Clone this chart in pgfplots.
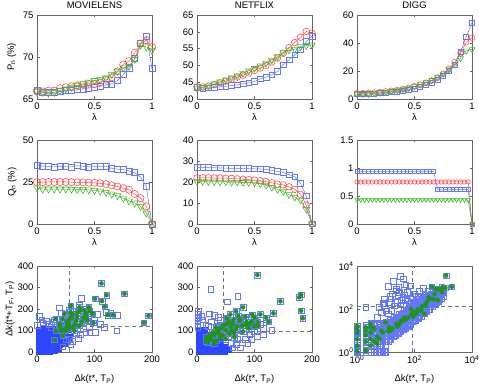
\documentclass[border=0pt]{standalone}
\usepackage{fontspec}
\setmainfont{Liberation Sans}
\usepackage{pgfplots}
\usepackage{pgfplotstable}
\pgfplotsset{compat=1.18}
\definecolor{mBlue}{RGB}{100,120,255}
\definecolor{cBlue}{RGB}{45,70,255}
\definecolor{mRed}{RGB}{255,80,80}
\definecolor{mGreen}{RGB}{70,185,50}
\definecolor{sGreen}{RGB}{30,150,20}
\newcommand\fs{\fontsize{9.5}{11}\selectfont}

\pgfplotsset{
  every axis title shift=0pt,
  base/.style={scale only axis,width=115pt,height=84pt,
    axis line style={draw=black!60,line width=0.5pt},
    tick style={draw=black!60,line width=0.4pt},major tick length=2.5pt,
    tick align=inside,tick pos=both,
    ticklabel style={font=\fs},label style={font=\fs},
    title style={font=\fs,at={(0.5,1)},anchor=south,yshift=3pt},
    /pgf/number format/assume math mode=true},
  lam/.style={base,xmin=0,xmax=1,xtick={0,0.5,1},xlabel={λ},
    xlabel style={at={(axis description cs:0.5,-0.215)},anchor=center}},
  ylab/.style={ylabel style={at={(axis description cs:#1,0.5)},anchor=center}},
  bl/.style={color=mBlue,line width=0.5pt,mark=square,mark size=#1,mark options={line width=0.6pt}},
  rd/.style={color=mRed,line width=0.5pt,mark=o,mark size=#1,mark options={line width=0.6pt}},
  gr/.style={color=mGreen,line width=0.5pt,mark=triangle,mark size=#1,mark options={rotate=180,line width=0.6pt}},
  sc/.style={base,height=86pt,xmin=0,xmax=200,ymin=0,ymax=400,xtick={0,100,200},ytick={0,100,...,400},
    xlabel={Δk(t*, T\textsubscript{P})},
    xlabel style={at={(axis description cs:0.5,-0.32)},anchor=center}},
  so/.style={only marks,mark=square,mark size=2.8pt,color=mBlue,mark options={line width=0.55pt}},
  sf/.style={only marks,mark=square*,mark size=2.8pt,color=cBlue,mark options={fill=cBlue}},
  sg/.style={only marks,mark=*,mark size=2.1pt,color=sGreen,mark options={fill=sGreen}},
  dl/.style={black!55,line width=0.6pt,dash pattern=on 4pt off 3pt}
}

% P_n tables: lambda, blue, red, green
\pgfplotstableread{
l b r g
0 66.0 65.9 65.9
0.05 65.8 65.9 65.8
0.1 65.8 66.0 65.7
0.15 65.8 66.0 65.8
0.2 65.9 66.3 66.0
0.25 66.0 66.4 66.2
0.3 66.0 66.5 66.4
0.35 66.1 66.6 66.6
0.4 66.2 66.7 66.8
0.45 66.3 66.8 67.0
0.5 66.4 66.8 67.2
0.55 66.5 67.0 67.3
0.6 66.7 67.3 67.5
0.65 66.8 67.6 67.9
0.7 67.2 68.3 68.3
0.75 67.9 69.1 68.7
0.8 68.7 69.5 68.9
0.85 69.8 70.5 69.7
0.9 71.6 71.6 71.4
0.95 72.5 72.0 71.2
1 68.6 71.2 70.8
}\mlP
\pgfplotstableread{
l b r g
0 43.4 43.6 43.2
0.05 43.2 43.6 43.4
0.1 43.3 43.9 43.9
0.15 43.4 44.3 44.5
0.2 43.6 44.8 45.1
0.25 43.8 45.3 45.7
0.3 44.0 45.9 46.3
0.35 44.2 46.5 46.9
0.4 44.5 47.1 47.6
0.45 44.8 47.8 48.4
0.5 45.2 48.5 49.1
0.55 46.0 49.2 49.9
0.6 46.5 50.0 50.7
0.65 47.2 51.0 51.6
0.7 48.2 52.2 52.6
0.75 50.2 53.6 53.8
0.8 51.7 55.3 54.6
0.85 53.1 56.8 54.8
0.9 54.6 58.4 55.6
0.95 57.1 60.1 55.9
1 58.6 59.6 56.1
}\ntP
\pgfplotstableread{
l b r g
0 3.6 4.0 3.5
0.05 3.6 4.1 3.4
0.1 3.7 4.3 3.6
0.15 3.9 4.6 4.0
0.2 4.2 5.0 4.4
0.25 4.5 5.4 4.9
0.3 4.9 5.9 5.4
0.35 5.4 6.5 6.1
0.4 6.0 7.2 6.9
0.45 6.7 8.0 7.8
0.5 7.6 9.0 9.0
0.55 8.7 10.2 10.3
0.6 10.0 11.6 11.8
0.65 11.6 13.2 13.4
0.7 13.7 15.2 15.4
0.75 16.6 18.0 18.0
0.8 20.1 21.6 20.9
0.85 24.4 26.5 24.4
0.9 33.9 32.7 29.1
0.95 44.5 40.5 34.4
1 54.7 43.8 35.5
}\dgP
% Q_n tables
\pgfplotstableread{
l b r g
0 34.8 24.9 21.5
0.05 34.4 24.9 20.8
0.1 34.3 25.0 20.8
0.15 34.0 25.0 20.8
0.2 34.3 25.0 20.8
0.25 34.1 25.0 20.8
0.3 34.0 24.9 20.7
0.35 34.7 24.8 20.6
0.4 34.4 24.8 20.5
0.45 34.0 24.6 20.3
0.5 34.2 24.5 20.0
0.55 34.3 24.2 19.6
0.6 34.2 23.8 18.9
0.65 33.2 23.0 17.8
0.7 32.6 22.3 16.8
0.75 32.5 21.3 15.4
0.8 31.6 20.4 13.8
0.85 30.5 17.8 12.5
0.9 28.0 15.4 10.5
0.95 22.5 10.5 6.5
1 0 0 0
}\mlQ
\pgfplotstableread{
l b r g
0 26.9 22.0 20.2
0.05 26.9 22.0 20.2
0.1 26.9 22.0 20.1
0.15 26.8 21.9 20.1
0.2 26.7 21.9 20.0
0.25 26.6 21.8 20.0
0.3 26.5 21.7 19.9
0.35 26.5 21.5 19.9
0.4 26.4 21.3 19.8
0.45 26.4 21.1 19.7
0.5 26.3 20.9 19.6
0.55 26.2 20.6 19.1
0.6 26.0 20.2 18.5
0.65 25.6 19.6 17.5
0.7 25.0 19.0 16.5
0.75 24.6 18.6 15.4
0.8 23.5 17.7 14.0
0.85 22.5 16.5 12.8
0.9 19.4 14.2 11.3
0.95 13.4 9.0 7.0
1 0 0 0
}\ntQ
\pgfplotstableread{
l b r g
0 0.94 0.75 0.43
0.0333 0.94 0.75 0.43
0.0667 0.94 0.75 0.43
0.1 0.94 0.75 0.43
0.1333 0.94 0.75 0.43
0.1667 0.94 0.75 0.43
0.2 0.94 0.75 0.43
0.2333 0.94 0.75 0.43
0.2667 0.94 0.75 0.43
0.3 0.94 0.75 0.43
0.3333 0.94 0.75 0.43
0.3667 0.94 0.75 0.43
0.4 0.94 0.75 0.43
0.4333 0.94 0.75 0.43
0.4667 0.94 0.75 0.43
0.5 0.94 0.75 0.43
0.5333 0.94 0.75 0.43
0.5667 0.94 0.75 0.43
0.6 0.94 0.75 0.43
0.6333 0.94 0.75 0.43
0.6667 0.94 0.75 0.43
0.7 0.62 0.75 0.43
0.7333 0.62 0.75 0.43
0.7667 0.62 0.75 0.43
0.8 0.62 0.75 0.43
0.8333 0.62 0.75 0.43
0.8667 0.62 0.75 0.43
0.9 0.62 0.75 0.43
0.9333 0.62 0.75 0.43
0.9667 0.62 0.75 0.43
1 0 0 0
}\dgQ

% scatter: MovieLens
\pgfplotstableread{
x y
3 5
3 30
3 55
3 80
4 100
12 5
12 30
12 55
12 80
13 105
21 5
21 30
21 55
21 80
22 105
30 8
30 30
30 55
30 80
32 105
38 15
39 35
39 55
40 80
42 100
47 40
48 60
50 85
53 105
56 70
44 120
}\mlC
\pgfplotstableread{
x y
77 250
39 205
4 167
21 130
10 135
16 146
28 140
0 125
8 150
35 125
45 140
60 150
70 130
80 110
65 100
68 84
85 91
92 91
101 91
91 115
117 115
139 99
59 37
50 56
56 60
45 25
62 50
72 65
75 80
105 175
85 200
64 190
50 165
42 180
100 148
120 185
128 180
140 170
90 180
30 150
55 195
73 220
110 130
24 115
}\mlB
\pgfplotstableread{
x y
112 319
152 271
101 248
113 237
121 265
118 211
123 172
132 171
97 178
98 136
194 169
186 136
59 215
74 208
90 208
85 177
80 161
68 146
62 177
48 177
45 153
56 153
53 122
33 153
33 99
42 99
50 99
62 115
74 122
30 56
45 76
56 130
71 184
82 192
88 146
65 99
39 130
40 115
52 140
60 160
70 165
78 140
66 128
47 105
58 185
75 195
85 160
92 190
55 110
}\mlG
% scatter: Netflix
\pgfplotstableread{
x y
3 5
3 30
3 55
3 80
3 100
12 5
12 30
12 55
12 80
12 100
21 5
21 30
21 55
21 80
30 5
30 30
30 55
30 75
39 5
39 30
39 50
48 5
48 25
55 10
}\ntC
\pgfplotstableread{
x y
1 115
1 130
1 145
2 160
1 175
2 190
24 293
71 259
53 234
21 177
37 161
68 37
79 43
71 60
84 60
92 80
100 95
97 120
90 150
102 145
110 130
105 100
60 40
58 110
45 100
36 120
25 140
15 125
10 150
8 165
60 150
65 130
75 100
85 110
55 70
40 80
62 20
115 110
120 150
130 100
95 60
88 40
75 20
105 70
115 80
50 140
40 150
30 170
20 120
}\ntB
\pgfplotstableread{
x y
105 358
181 267
178 254
145 236
133 180
181 192
184 157
80 208
96 174
106 138
106 122
91 130
84 164
72 166
74 146
63 149
52 158
53 133
45 122
39 107
33 115
27 91
22 76
16 68
19 45
33 53
45 76
56 84
68 107
79 122
59 115
39 84
65 68
50 100
62 130
86 140
25 60
30 80
35 95
42 110
48 125
55 140
60 100
70 120
75 150
90 110
95 140
100 160
110 175
30 40
20 55
15 50
40 65
50 60
65 90
80 95
85 125
100 120
58 175
68 190
120 160
125 140
}\ntG
% scatter: Digg
\pgfplotstableread{
x y
1 1
1 1.2
1 1.5
1 2
1 2.5
1 3
1 4
1 5
1 6
1 7
1 8.5
1 10
1 11
1 13
2 1
2 1.5
2 2
2 3
2 4
2 5
2 6
2 8
2 10
2 12
2 14
2 17
3 1
3 2
3 3
3 4
3 5
3 6
3 7
3 10
3 12
3 15
3 18
3 22
4 1
4 2
4 3
4 4
4 6
4 9
4 13
4 20
5 1
5 2
5 3
5 5
5 8
5 12
5 18
6 1
6 2
6 3
6 5
6 8
6 12
6 19
7 1
7 2
7 4
7 6
7 10
7 15
8 1
8 3
8 5
8 9
8 14
8 22
9 1
9 3
9 6
9 11
9 18
10 1
10 2
10 4
10 7
10 11
10 17
11 3
11 6
11 9
11 15
12 3
12 5
12 8
12 13
12 20
14 4
14 7
14 12
14 19
14 30
15 4
15 6
15 10
15 16
15 25
16 5
16 9
16 14
16 22
18 5
18 8
18 12
18 19
18 30
20 6
20 11
20 17
20 27
20 42
22 6
22 10
22 15
22 23
22 36
25 8
25 13
25 21
25 33
27 7
27 12
27 19
27 28
27 44
30 9
30 16
30 25
30 39
30 60
33 9
33 15
33 23
33 35
33 55
36 11
36 19
36 30
36 47
40 11
40 18
40 28
40 42
40 65
45 14
45 24
45 38
45 58
45 90
50 13
50 22
50 35
50 52
50 80
55 17
55 29
55 46
55 70
62 16
62 27
62 43
62 65
62 100
68 21
68 36
68 57
68 88
68 135
75 20
75 33
75 52
75 80
75 125
82 26
82 44
82 70
82 108
90 25
90 40
90 63
90 95
90 150
100 32
100 54
100 86
100 132
100 200
110 30
110 50
110 78
110 120
110 185
122 40
122 66
122 105
122 160
135 37
135 60
135 95
135 145
135 225
150 50
150 82
150 130
150 200
150 300
170 45
170 75
170 120
170 180
170 280
190 62
190 104
190 165
190 250
210 60
210 95
210 150
210 230
210 350
235 80
235 130
235 205
235 320
260 75
260 120
260 190
260 290
260 440
295 100
295 165
295 260
295 400
330 100
330 160
330 250
330 380
370 125
370 210
370 330
370 520
420 130
420 210
420 330
420 500
470 160
470 270
470 430
530 170
530 270
530 420
530 650
600 210
600 340
600 560
600 800
680 220
680 350
680 550
760 270
760 440
760 720
850 300
850 480
1000 400
1000 650
32 3300
12 1130
23 850
50 1350
17 500
26 420
39 350
58 245
9 293
13 205
30 600
98 500
129 350
290 710
5 41
2 120
10 84
6 120
20 143
66 170
14 400
45 450
8 180
15 300
22 700
28 1000
35 250
42 800
55 600
70 1200
18 2000
40 2500
9 150
7 70
12 60
16 90
25 200
33 160
48 280
80 300
110 420
150 700
200 900
}\dgB
\pgfplotstableread{
x y
1250 3550
2000 1090
1180 950
405 1090
560 850
910 600
450 290
640 260
310 350
250 143
170 84
220 59
76 100
50 34
34 29
23 20
13 14
10 24
17 12
1 16
1 8
1 4
1 2
1 1.1
2 10
2 6
2 3
2 1.2
3 14
3 8
3 4
3 2
5 5
5 2.5
8 8
120 60
90 45
30 20
40 28
60 40
80 60
100 70
130 95
180 130
240 170
280 230
350 300
500 500
700 800
900 1000
45 40
25 15
15 10
12 9
6 4
7 10
4 3
4 12
3 20
1 12
2 14
}\dgG

\begin{document}
\begin{tikzpicture}
\useasboundingbox (0,0) rectangle (479pt,387pt);
% ---------- row 1: P_n
\begin{axis}[lam,at={(37pt,288pt)},anchor=south west,ymin=65,ymax=75,ytick={65,70,75},
  title={MOVIELENS},ylabel={P\textsubscript{n} (\%)},ylab=-0.22]
  \addplot[bl=3pt] table[x=l,y=b]{\mlP};
  \addplot[rd=3.6pt] table[x=l,y=r]{\mlP};
  \addplot[gr=4pt] table[x=l,y=g]{\mlP};
\end{axis}
\begin{axis}[lam,at={(197pt,288pt)},anchor=south west,ymin=40,ymax=65,ytick={40,45,...,65},title={NETFLIX}]
  \addplot[bl=2.8pt] table[x=l,y=b]{\ntP};
  \addplot[rd=3.3pt] table[x=l,y=r]{\ntP};
  \addplot[gr=3.8pt] table[x=l,y=g]{\ntP};
\end{axis}
\begin{axis}[lam,at={(357pt,288pt)},anchor=south west,ymin=0,ymax=60,ytick={0,20,40,60},title={DIGG}]
  \addplot[bl=2.5pt] table[x=l,y=b]{\dgP};
  \addplot[rd=2.9pt] table[x=l,y=r]{\dgP};
  \addplot[gr=3.4pt] table[x=l,y=g]{\dgP};
\end{axis}
% ---------- row 2: Q_n
\begin{axis}[lam,at={(37pt,163pt)},anchor=south west,ymin=0,ymax=50,ytick={0,25,50},
  ylabel={Q\textsubscript{n} (\%)},ylab=-0.215]
  \addplot[bl=3pt] table[x=l,y=b]{\mlQ};
  \addplot[rd=3.6pt] table[x=l,y=r]{\mlQ};
  \addplot[gr=4pt] table[x=l,y=g]{\mlQ};
\end{axis}
\begin{axis}[lam,at={(197pt,163pt)},anchor=south west,ymin=0,ymax=40,ytick={0,10,...,40}]
  \addplot[bl=2.8pt] table[x=l,y=b]{\ntQ};
  \addplot[rd=3.3pt] table[x=l,y=r]{\ntQ};
  \addplot[gr=3.8pt] table[x=l,y=g]{\ntQ};
\end{axis}
\begin{axis}[lam,at={(357pt,163pt)},anchor=south west,ymin=0,ymax=1.5,ytick={0,0.5,1,1.5}]
  \addplot[bl=1.9pt] table[x=l,y=b]{\dgQ};
  \addplot[rd=2.2pt] table[x=l,y=r]{\dgQ};
  \addplot[gr=2.6pt] table[x=l,y=g]{\dgQ};
\end{axis}
% ---------- row 3: scatter
\begin{axis}[sc,at={(37pt,35pt)},anchor=south west,
  ylabel={Δk(t*+T\textsubscript{F}, T\textsubscript{P})},ylab=-0.235]
  \addplot[sf] table{\mlC};
  \addplot[so] table{\mlB};
  \addplot[so] table{\mlG};
  \addplot[sg] table{\mlG};
  \addplot[dl] coordinates {(56,0) (56,400)};
  \addplot[dl] coordinates {(56,120) (200,120)};
\end{axis}
\begin{axis}[sc,at={(197pt,35pt)},anchor=south west]
  \addplot[sf] table{\ntC};
  \addplot[so] table{\ntB};
  \addplot[so] table{\ntG};
  \addplot[sg] table{\ntG};
  \addplot[dl] coordinates {(45,0) (45,400)};
  \addplot[dl] coordinates {(45,96) (200,96)};
\end{axis}
\begin{axis}[base,height=86pt,at={(357pt,35pt)},anchor=south west,xmode=log,ymode=log,
  xmin=1,xmax=10000,ymin=1,ymax=10000,xtick={1,100,10000},ytick={1,100,10000},
  minor xtick={},minor ytick={},
  xticklabels={10\textsuperscript{0},10\textsuperscript{2},10\textsuperscript{4}},
  yticklabels={10\textsuperscript{0},10\textsuperscript{2},10\textsuperscript{4}},
  xlabel={Δk(t*, T\textsubscript{P})},
  xlabel style={at={(axis description cs:0.5,-0.32)},anchor=center}]
  \addplot[so] table{\dgB};
  \addplot[so] table{\dgG};
  \addplot[sg] table{\dgG};
  \addplot[dl] coordinates {(82,1) (82,10000)};
  \addplot[dl] coordinates {(1,140) (10000,140)};
\end{axis}
\end{tikzpicture}
\end{document}
